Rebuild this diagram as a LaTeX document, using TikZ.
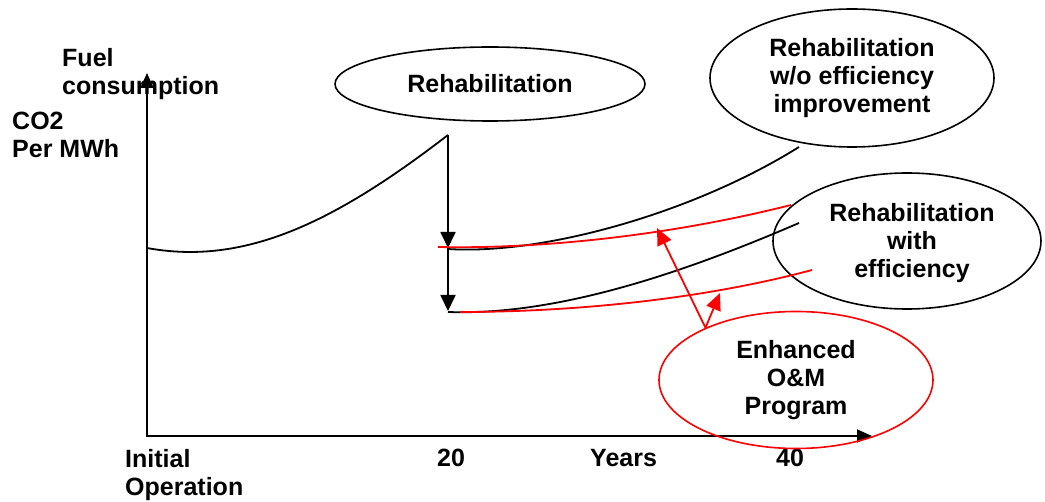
\documentclass[tikz,border=0pt]{standalone}
\usepackage{fontspec}
\setmainfont{Liberation Sans}
\usetikzlibrary{shapes.geometric,arrows.meta}
\begin{document}
\begin{tikzpicture}[x=1pt,y=-1pt,
  lbl/.style={font=\fontsize{25}{28}\selectfont\bfseries, inner sep=0pt},
  bubble/.style={draw, ellipse, line width=1.6pt, inner sep=0pt, align=center,
    font=\fontsize{25}{28}\selectfont\bfseries},
  curve/.style={line width=1.8pt},
  redcurve/.style={draw=red, line width=1.8pt},
  dropa/.style={line width=1.8pt, -{Triangle[length=16pt,width=15pt]}},
  reda/.style={draw=red, fill=red, line width=1.8pt, -{Triangle[length=17pt,width=15pt]}},
]
\useasboundingbox (0,0) rectangle (1045,502);

% axes
\coordinate (O) at (147,436);
\coordinate (ytip) at (147,73);
\coordinate (xtip) at (872,436);
\draw[line width=1.8pt, {Triangle[length=15pt,width=13pt]}-{Triangle[length=15pt,width=13pt]}] (ytip) -- (O) -- (xtip);

% labels
\node[lbl, anchor=north west, align=left] (fuel) at (62,48) {Fuel\\consumption};
\node[lbl, anchor=north west, align=left] (co2) at (12,112) {CO2\\Per MWh};
\node[lbl, anchor=north west, align=left] (init) at (125,449) {Initial\\Operation};
\node[lbl, anchor=base] (t20) at (451,467) {20};
\node[lbl, anchor=base west] (years) at (590,467) {Years};
\node[lbl, anchor=base] (t40) at (790,467) {40};

% bubbles
\node[bubble, minimum width=310pt, minimum height=74pt] (reh) at (490,84) {Rehabilitation};
\node[bubble, minimum width=284pt, minimum height=138pt] (wo) at (852,78) {Rehabilitation\\w/o efficiency\\improvement};
\node[bubble, minimum width=268pt, minimum height=136pt] (with) at (907,241) {};
\node[lbl, align=center] (withtxt) at (912,243) {Rehabilitation\\with\\efficiency};
\node[bubble, draw=red, minimum width=274pt, minimum height=137pt] (om) at (796,380) {Enhanced\\O\&M\\Program};

% main curve and drops
\coordinate (start) at (147,248);
\coordinate (peak) at (448,135);
\coordinate (mid) at (448,248);
\coordinate (low) at (448,311);
\draw[curve] (start) .. controls (245,266) and (335,222) .. (peak);
\draw[dropa] (peak) -- (mid);
\draw[dropa] (mid) -- (low);

% rehabilitation curves
\draw[curve] (448,249) .. controls (540,255) and (690,215) .. (799,147);
\draw[curve] (448,312) .. controls (560,316) and (690,270) .. (799,223);

% O&M curves
\draw[redcurve] (438,247) .. controls (530,249) and (660,238) .. (791,205);
\draw[redcurve] (460,312) .. controls (570,312) and (700,300) .. (812,270);

% O&M arrows
\coordinate (rt1) at (657,228);
\coordinate (rt2) at (720,293);
\draw[reda] (om.150) -- (rt1);
\draw[reda] (om.150) -- (rt2);
\end{tikzpicture}
\end{document}
